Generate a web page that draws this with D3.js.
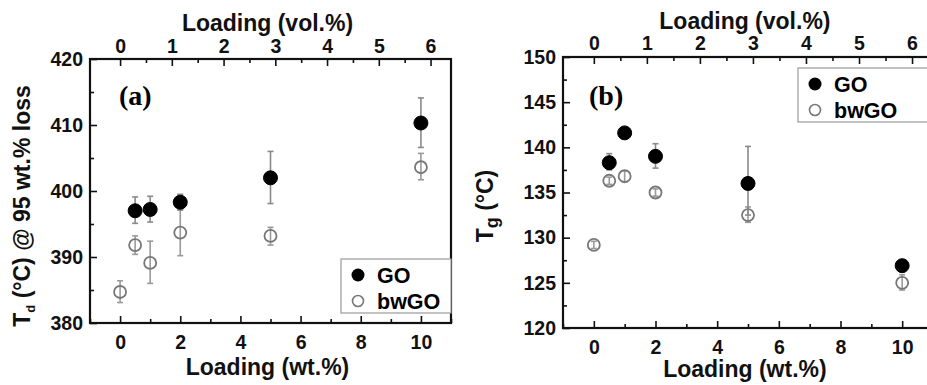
<!DOCTYPE html>
<html>
<head>
<meta charset="utf-8">
<script src="https://cdn.jsdelivr.net/npm/d3@7"></script>
<style>
  body { margin: 0; background: #fff; }
  svg { display: block; font-family: Arial, "Liberation Sans", sans-serif; }
</style>
</head>
<body>
<svg id="chart" width="927" height="385"></svg>
<script>
// loadings (wt.%)
let loadA_go = [0.5, 1, 2, 5, 10];
let loadA_bw = [0, 0.5, 1, 2, 5, 10];

// panel (a): Td @ 95 wt.% loss
let tdGO = [397.0, 397.2, 398.3, 402.0, 410.3];
let tdGOlo = [395.1, 395.3, 397.1, 398.1, 406.6];
let tdGOhi = [399.1, 399.2, 399.5, 406.0, 414.1];
let tdBW = [384.7, 391.8, 389.1, 393.7, 393.2, 403.6];
let tdBWlo = [383.1, 390.4, 386.0, 390.2, 391.8, 401.7];
let tdBWhi = [386.4, 393.2, 392.4, 397.3, 394.5, 405.7];

// panel (b): Tg
let tgGO = [138.3, 141.6, 139.0, 136.0, 126.9];
let tgGOlo = [137.5, 141.2, 137.7, 132.5, 126.2];
let tgGOhi = [139.3, 142.0, 140.4, 140.1, 127.5];
let tgBW = [129.2, 136.3, 136.8, 135.0, 132.5, 125.0];
let tgBWlo = [128.8, 135.9, 136.2, 134.6, 131.7, 124.2];
let tgBWhi = [129.6, 136.7, 137.4, 135.4, 133.4, 125.9];

let wtTicks = [0, 2, 4, 6, 8, 10];
let volTicks = [0, 1, 2, 3, 4, 5, 6];
let volPerWt = 1 / 1.72; // vol.% for 1 wt.%

let svg = d3.select('#chart');

function zip(xs, ys, lo, hi) {
    return xs.map((x, i) => ({ x: x, y: ys[i], lo: lo[i], hi: hi[i] }));
}

function drawPanel(p) {
    let g = svg.append('g').attr('transform', 'translate(' + p.left + ',' + p.top + ')');
    let w = p.width, h = p.height;

    let x = d3.scaleLinear().domain([-1, 11]).range([0, w]);
    let xv = d3.scaleLinear().domain([-1 * volPerWt, 11 * volPerWt]).range([0, w]);
    let y = d3.scaleLinear().domain(p.yDomain).range([h, 0]);

    // minor ticks
    let bottomMinor = d3.axisBottom(x).tickValues(d3.range(-1, 12, 2)).tickSize(-4).tickFormat('');
    let topMinor = d3.axisTop(xv).tickValues(d3.range(0.5, 6.5, 1)).tickSize(-4).tickFormat('');
    let leftMinor = d3.axisLeft(y).tickValues(p.yMinor).tickSize(-4).tickFormat('');

    g.append('g').attr('transform', 'translate(0,' + h + ')').call(bottomMinor);
    g.append('g').call(topMinor);
    g.append('g').call(leftMinor);

    let bottom = g.append('g').attr('transform', 'translate(0,' + h + ')')
        .call(d3.axisBottom(x).tickValues(wtTicks).tickSize(-7).tickPadding(12));
    let top = g.append('g')
        .call(d3.axisTop(xv).tickValues(volTicks).tickFormat(d3.format('d'))
            .tickSize(-7).tickPadding(p.topPad));
    let left = g.append('g')
        .call(d3.axisLeft(y).tickValues(p.yTicks).tickSize(-7).tickPadding(7));

    g.selectAll('.domain').remove();
    g.selectAll('.tick line').attr('stroke', '#111').attr('stroke-width', 1.6);
    [bottom, top, left].forEach(a => {
        a.selectAll('text')
            .attr('font-size', 19.5)
            .attr('font-weight', 'bold')
            .attr('fill', '#111')
            .attr('font-family', 'Arial, "Liberation Sans", sans-serif');
    });

    // frame
    g.append('rect')
        .attr('width', w)
        .attr('height', h)
        .attr('fill', 'none')
        .attr('stroke', '#111')
        .attr('stroke-width', 2.2);

    // error bars + markers
    function series(data, filled) {
        let col = filled ? '#8a8a8a' : '#9a9a9a';
        let eb = g.append('g').selectAll('g').data(data).enter().append('g');
        eb.append('line')
            .attr('x1', d => x(d.x)).attr('x2', d => x(d.x))
            .attr('y1', d => y(d.lo)).attr('y2', d => y(d.hi))
            .attr('stroke', col).attr('stroke-width', 1.6);
        eb.append('line')
            .attr('x1', d => x(d.x) - 3).attr('x2', d => x(d.x) + 3)
            .attr('y1', d => y(d.lo)).attr('y2', d => y(d.lo))
            .attr('stroke', col).attr('stroke-width', 1.6);
        eb.append('line')
            .attr('x1', d => x(d.x) - 3).attr('x2', d => x(d.x) + 3)
            .attr('y1', d => y(d.hi)).attr('y2', d => y(d.hi))
            .attr('stroke', col).attr('stroke-width', 1.6);

        g.append('g').selectAll('circle').data(data).enter().append('circle')
            .attr('cx', d => x(d.x))
            .attr('cy', d => y(d.y))
            .attr('r', filled ? 7 : 6)
            .attr('fill', filled ? '#000' : '#fff')
            .attr('fill-opacity', filled ? 1 : 0)
            .attr('stroke', filled ? '#000' : '#777')
            .attr('stroke-width', filled ? 1 : 1.8);
    }
    series(p.bw, false);
    series(p.go, true);

    // panel tag
    g.append('text')
        .attr('x', p.tagX)
        .attr('y', p.tagY)
        .attr('font-family', '"Liberation Serif", "Times New Roman", serif')
        .attr('font-weight', 'bold')
        .attr('font-size', 28)
        .text(p.tag);

    // legend
    let lg = g.append('g').attr('transform', 'translate(' + p.legX + ',' + p.legY + ')');
    lg.append('rect')
        .attr('width', p.legW)
        .attr('height', 54)
        .attr('fill', '#fff')
        .attr('stroke', '#999')
        .attr('stroke-width', 1.2);
    lg.append('circle').attr('cx', 17).attr('cy', 16).attr('r', 6.5).attr('fill', '#000');
    lg.append('circle').attr('cx', 17).attr('cy', 42).attr('r', 5.5)
        .attr('fill', 'none').attr('stroke', '#777').attr('stroke-width', 1.6);
    lg.append('text').attr('x', 36).attr('y', 24)
        .attr('font-size', 21.5).attr('font-weight', 'bold').text('GO');
    lg.append('text').attr('x', 36).attr('y', 50)
        .attr('font-size', 21.5).attr('font-weight', 'bold').text('bwGO');

    // axis titles
    svg.append('text')
        .attr('x', p.left + x(4.9))
        .attr('y', p.top + h + p.botTitle)
        .attr('text-anchor', 'middle')
        .attr('font-size', 23)
        .attr('font-weight', 'bold')
        .attr('fill', '#111')
        .text('Loading (wt.%)');
    svg.append('text')
        .attr('x', p.left + x(4.9))
        .attr('y', p.top - p.topTitle)
        .attr('text-anchor', 'middle')
        .attr('font-size', 23)
        .attr('font-weight', 'bold')
        .attr('fill', '#111')
        .text('Loading (vol.%)');

    let yl = svg.append('text')
        .attr('transform', 'translate(' + p.yTitleX + ',' + (p.top + p.yTitleY) + ') rotate(-90)')
        .attr('text-anchor', 'middle')
        .attr('font-size', 23)
        .attr('font-weight', 'bold')
        .attr('fill', '#111');
    yl.append('tspan').text('T');
    yl.append('tspan').attr('font-size', p.subSize).attr('dy', 5).text(p.sub);
    yl.append('tspan').attr('dy', -5).text(' ' + p.yRest);
}

drawPanel({
    left: 90, top: 59, width: 361, height: 264,
    yDomain: [380, 420], yTicks: [380, 390, 400, 410, 420],
    yMinor: [385, 395, 405, 415],
    go: zip(loadA_go, tdGO, tdGOlo, tdGOhi),
    bw: zip(loadA_bw, tdBW, tdBWlo, tdBWhi),
    tag: '(a)', tagX: 29, tagY: 46,
    legX: 251, legY: 200, legW: 110,
    topPad: 6, topTitle: 28, botTitle: 52,
    yTitleX: 30, yTitleY: 147, sub: 'd', subSize: 13, yRest: '(°C) @ 95 wt.% loss'
});

drawPanel({
    left: 563, top: 57, width: 370, height: 271,
    yDomain: [120, 150], yTicks: [120, 125, 130, 135, 140, 145, 150],
    yMinor: d3.range(122.5, 150, 5),
    go: zip(loadA_go, tgGO, tgGOlo, tgGOhi),
    bw: zip(loadA_bw, tgBW, tgBWlo, tgBWhi),
    tag: '(b)', tagX: 26, tagY: 48,
    legX: 235, legY: 11, legW: 150,
    topPad: 7, topTitle: 28, botTitle: 49,
    yTitleX: 493, yTitleY: 149, sub: 'g', subSize: 18, yRest: '(°C)'
});
</script>
</body>
</html>
